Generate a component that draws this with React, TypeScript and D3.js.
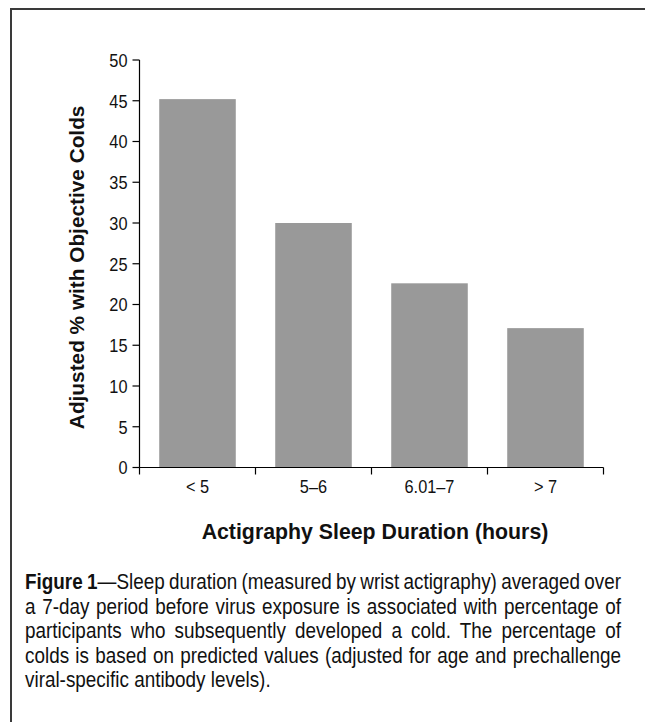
import { useEffect, useRef } from 'react';
import * as d3 from 'd3';

const categories = ['< 5', '5–6', '6.01–7', '> 7'];
const values = [45.2, 30.0, 22.6, 17.1];
const yTicks = [0, 5, 10, 15, 20, 25, 30, 35, 40, 45, 50];

const captionLines = [
  'Sleep duration (measured by wrist actigraphy) averaged over',
  'a 7-day period before virus exposure is associated with percentage of',
  'participants who subsequently developed a cold. The percentage of',
  'colds is based on predicted values (adjusted for age and prechallenge',
  'viral-specific antibody levels).',
];

const sans = '"Liberation Sans", Arial, sans-serif';
// no narrow font installed: squeeze regular sans horizontally
const SQ = 0.84;
const SQ_TICK = 0.86;

export default function App() {
  const captionRef = useRef<SVGGElement>(null);

  const width = 645;
  const height = 722;
  const plot = { left: 139.5, right: 603.5, top: 60, bottom: 467.5 };

  const y = d3.scaleLinear().domain([0, 50]).range([plot.bottom, plot.top]);
  const xTicks = d3.scaleBand().domain(categories).range([plot.left, plot.right]).padding(0);
  const x = d3.scaleBand().domain(categories).range([plot.left, plot.right])
    .paddingInner(0.34).paddingOuter(0.17);

  const boundaries = [...categories.map(c => xTicks(c) as number), plot.right];

  // justify caption lines by adjusting word spacing
  useEffect(() => {
    if (!captionRef.current) return;
    const target = 596 / SQ;
    d3.select(captionRef.current).selectAll<SVGTextElement, unknown>('text.justify').each(function () {
      const node = this;
      const words = (node.textContent || '').trim().split(/\s+/).length;
      const w = node.getComputedTextLength();
      if (words > 1) {
        d3.select(node).style('word-spacing', `${(target - w) / (words - 1)}px`);
      }
    });
  }, []);

  return (
    <svg width={width} height={height} style={{ position: 'absolute', left: 0, top: 0, background: '#fff' }}>
      {/* frame */}
      <rect x={11} y={9} width={720} height={800} fill="none" stroke="#3a3a3a" strokeWidth={2} />

      {/* bars */}
      {categories.map((c, i) => (
        <rect key={c} x={x(c)} y={y(values[i])} width={x.bandwidth()} height={plot.bottom - y(values[i])} fill="#999999" />
      ))}

      {/* y axis */}
      <line x1={plot.left} x2={plot.left} y1={plot.top} y2={plot.bottom} stroke="#000" strokeWidth={1.2} />
      {yTicks.map(t => (
        <line key={t} x1={plot.left - 7} x2={plot.left} y1={y(t)} y2={y(t)} stroke="#000" strokeWidth={1.2} />
      ))}
      <g transform={`scale(${SQ_TICK},1)`} fontFamily={sans} fontSize={19} fill="#111">
        {yTicks.map(t => (
          <text key={t} x={(plot.left - 12) / SQ_TICK} y={y(t)} dy="0.36em" textAnchor="end">{t}</text>
        ))}
        {categories.map(c => (
          <text key={c} x={((xTicks(c) as number) + xTicks.bandwidth() / 2) / SQ_TICK} y={493.5} textAnchor="middle">{c}</text>
        ))}
      </g>

      {/* x axis */}
      <line x1={plot.left} x2={plot.right} y1={plot.bottom} y2={plot.bottom} stroke="#000" strokeWidth={1.2} />
      {boundaries.map((b, i) => (
        <line key={i} x1={b} x2={b} y1={plot.bottom} y2={plot.bottom + 7} stroke="#000" strokeWidth={1.2} />
      ))}

      {/* axis titles */}
      <text x={375} y={539.3} textAnchor="middle" fontFamily={sans} fontWeight="bold" fontSize={21.3} fill="#111">
        Actigraphy Sleep Duration (hours)
      </text>
      <text transform={`translate(84,${(106.7 + 428) / 2}) rotate(-90)`} textAnchor="middle" fontFamily={sans} fontWeight="bold" fontSize={20.8} fill="#111">
        Adjusted % with Objective Colds
      </text>

      {/* caption */}
      <g ref={captionRef} transform={`scale(${SQ},1)`} fontFamily={sans} fontSize={22.5} fill="#111">
        {captionLines.map((line, i) => (
          <text key={i} className={i < captionLines.length - 1 ? 'justify' : ''} x={25 / SQ} y={589 + i * 24.6} xmlSpace="preserve">
            {i === 0 && <tspan fontWeight="bold">Figure 1</tspan>}
            {i === 0 ? '—' + line : line}
          </text>
        ))}
      </g>
    </svg>
  );
}
